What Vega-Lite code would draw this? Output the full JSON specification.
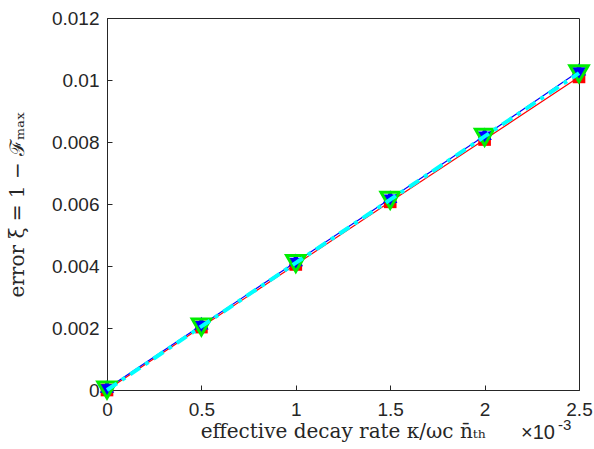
{
  "$schema": "https://vega.github.io/schema/vega-lite/v6.json",
  "width": 472,
  "height": 372,
  "padding": {"left": 7, "top": 9, "right": 0, "bottom": 5},
  "background": "white",
  "config": {
    "view": {"stroke": "#262626", "strokeWidth": 1},
    "axis": {
      "grid": false,
      "domainColor": "#262626",
      "tickColor": "#262626",
      "tickSize": -5,
      "labelFont": "Liberation Sans",
      "labelFontSize": 19,
      "labelColor": "#262626",
      "titleFont": "DejaVu Serif",
      "titleFontWeight": "normal",
      "titleFontSize": 20,
      "titleColor": "#262626"
    }
  },
  "datasets": {
    "pts": [
      {"x": 0, "y": 0, "s": "A"}, {"x": 0.5, "y": 0.00203, "s": "A"}, {"x": 1, "y": 0.00405, "s": "A"}, {"x": 1.5, "y": 0.00607, "s": "A"}, {"x": 2, "y": 0.00808, "s": "A"}, {"x": 2.5, "y": 0.0101, "s": "A"},
      {"x": 0, "y": 0.00005, "s": "B"}, {"x": 0.5, "y": 0.00209, "s": "B"}, {"x": 1, "y": 0.00413, "s": "B"}, {"x": 1.5, "y": 0.00617, "s": "B"}, {"x": 2, "y": 0.0082, "s": "B"}, {"x": 2.5, "y": 0.01028, "s": "B"},
      {"x": 0, "y": 0, "s": "C"}, {"x": 0.5, "y": 0.00203, "s": "C"}, {"x": 1, "y": 0.00408, "s": "C"}, {"x": 1.5, "y": 0.00612, "s": "C"}, {"x": 2, "y": 0.00815, "s": "C"}, {"x": 2.5, "y": 0.0102, "s": "C"},
      {"x": 0, "y": 0, "s": "D"}, {"x": 0.5, "y": 0.00205, "s": "D"}, {"x": 1, "y": 0.0041, "s": "D"}, {"x": 1.5, "y": 0.00614, "s": "D"}, {"x": 2, "y": 0.00818, "s": "D"}, {"x": 2.5, "y": 0.01022, "s": "D"}
    ],
    "notes": [
      {"x": 2.5, "y": 0, "t": "×10", "s": "base"},
      {"x": 2.5, "y": 0, "t": "-3", "s": "exp"}
    ]
  },
  "data": {"name": "pts"},
  "encoding": {
    "x": {"field": "x", "type": "quantitative", "scale": {"domain": [0, 2.5], "nice": false},
      "axis": {"values": [0, 0.5, 1, 1.5, 2, 2.5], "format": "~g", "title": "effective decay rate κ/ωc n̄ₜₕ", "labelPadding": 15, "titleY": 31, "labelFlush": false}},
    "y": {"field": "y", "type": "quantitative", "scale": {"domain": [0, 0.012], "nice": false},
      "axis": {"values": [0, 0.002, 0.004, 0.006, 0.008, 0.01, 0.012], "format": "~g", "title": "error ξ = 1 − ℱₘₐₓ", "labelPadding": 13, "titleX": -80}}
  },
  "layer": [
    {"transform": [{"filter": "datum.s == 'A'"}], "mark": {"type": "line", "color": "#ff0000", "strokeWidth": 1.2}},
    {"transform": [{"filter": "datum.s == 'B'"}], "mark": {"type": "line", "color": "#0000ff", "strokeWidth": 1.2}},
    {"transform": [{"filter": "datum.s == 'A'"}], "mark": {"type": "point", "shape": "square", "filled": true, "color": "#ff0000", "size": 160, "opacity": 1}},
    {"transform": [{"filter": "datum.s == 'B'"}], "mark": {"type": "point", "shape": "M0,-1L0.289,-0.5L0.866,-0.5L0.577,0L0.866,0.5L0.289,0.5L0,1L-0.289,0.5L-0.866,0.5L-0.577,0L-0.866,-0.5L-0.289,-0.5Z", "filled": true, "color": "#0000ff", "size": 280, "opacity": 1}},
    {"transform": [{"filter": "datum.s == 'C'"}], "mark": {"type": "point", "shape": "triangle-down", "filled": false, "color": "#00ee00", "strokeWidth": 3, "size": 340, "opacity": 1}},
    {"transform": [{"filter": "datum.s == 'D'"}], "mark": {"type": "line", "color": "#00ffff", "strokeWidth": 4, "strokeDash": [12, 6, 4, 6]}},
    {"data": {"name": "notes"}, "transform": [{"filter": "datum.s == 'base'"}], "mark": {"type": "text", "font": "Liberation Sans", "fontSize": 20, "color": "#262626", "align": "left", "baseline": "middle", "dx": -58, "dy": 43},
      "encoding": {"text": {"field": "t"}}},
    {"data": {"name": "notes"}, "transform": [{"filter": "datum.s == 'exp'"}], "mark": {"type": "text", "font": "Liberation Sans", "fontSize": 15, "color": "#262626", "align": "left", "baseline": "middle", "dx": -21, "dy": 35},
      "encoding": {"text": {"field": "t"}}}
  ]
}
